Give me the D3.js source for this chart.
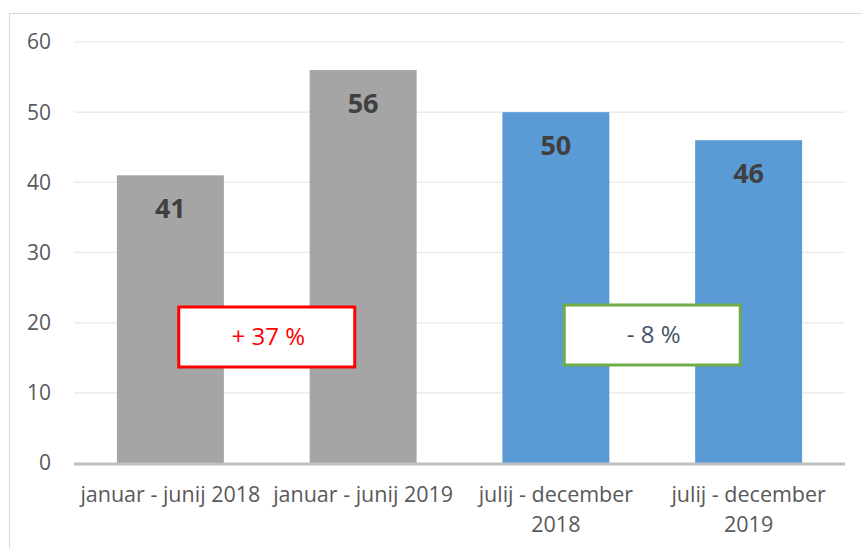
<!DOCTYPE html>
<html lang="en">
<head>
    <meta charset="utf-8">
    <title>Bars</title>
    <script src="https://cdn.jsdelivr.net/npm/d3@7"></script>
</head>
<style>
    body { margin: 0; background: #fff; }
    text { font-family: "Open Sans", "Noto Sans", sans-serif; }
</style>
<body>
    <script>

     // data
     var categories = [["januar - junij 2018"], ["januar - junij 2019"],
                       ["julij - december", "2018"], ["julij - december", "2019"]];
     var values = [41, 56, 50, 46];
     var barColors = ["#a5a5a5", "#a5a5a5", "#5b9bd5", "#5b9bd5"];
     var yTicks = [0, 10, 20, 30, 40, 50, 60];
     var notes = [{ text: "+ 37 %", from: 0, to: 1, color: "red", stroke: "#ff0000" },
                  { text: "- 8 %", from: 2, to: 3, color: "#44546a", stroke: "#70ad47" }];

     var width = 862, height = 548;

     var svg = d3.select("body").append("svg")
                 .attr("width", width)
                 .attr("height", height);

     // outer frame
     svg.append("rect")
        .attr("x", 9.5).attr("y", 13.5)
        .attr("width", 870).attr("height", 560)
        .attr("fill", "none")
        .attr("stroke", "#d9d9d9");

     var x = d3.scaleBand()
               .domain(d3.range(values.length))
               .range([74, 845])
               .paddingInner(0.445)
               .paddingOuter(0.2225);

     var y = d3.scaleLinear()
               .domain([0, 60])
               .range([463, 42]);

     // gridlines
     svg.selectAll(".grid")
        .data(yTicks.slice(1))
        .enter().append("line")
        .attr("x1", 74).attr("x2", 845)
        .attr("y1", function(d) { return y(d); })
        .attr("y2", function(d) { return y(d); })
        .attr("stroke", "#ececec")
        .attr("stroke-width", 1.5);

     // y labels
     svg.selectAll(".ylab")
        .data(yTicks)
        .enter().append("text")
        .attr("x", 51)
        .attr("y", function(d) { return y(d); })
        .attr("dy", "0.35em")
        .attr("text-anchor", "end")
        .attr("font-size", 21)
        .attr("fill", "#595959")
        .text(function(d) { return d; });

     // bars
     svg.selectAll(".bar")
        .data(values)
        .enter().append("rect")
        .attr("x", function(d, i) { return x(i); })
        .attr("y", function(d) { return y(d); })
        .attr("width", x.bandwidth())
        .attr("height", function(d) { return y(0) - y(d); })
        .attr("fill", function(d, i) { return barColors[i]; });

     // value labels
     svg.selectAll(".val")
        .data(values)
        .enter().append("text")
        .attr("x", function(d, i) { return x(i) + x.bandwidth() / 2; })
        .attr("y", function(d) { return y(d) + 43; })
        .attr("text-anchor", "middle")
        .attr("font-size", 27)
        .attr("font-weight", "bold")
        .attr("fill", "#404040")
        .text(function(d) { return d; });

     // x axis line
     svg.append("line")
        .attr("x1", 74).attr("x2", 845)
        .attr("y1", y(0) + 1).attr("y2", y(0) + 1)
        .attr("stroke", "#bfbfbf")
        .attr("stroke-width", 3);

     // category labels
     var cat = svg.selectAll(".cat")
        .data(categories)
        .enter().append("text")
        .attr("text-anchor", "middle")
        .attr("font-size", 21.5)
        .attr("fill", "#595959");
     cat.selectAll("tspan")
        .data(function(d, i) { return d.map(function(s) { return { s: s, i: i }; }); })
        .enter().append("tspan")
        .attr("x", function(d) { return x(d.i) + x.bandwidth() / 2; })
        .attr("y", function(d, j) { return 502 + j * 29.5; })
        .text(function(d) { return d.s; });

     // change boxes
     notes.forEach(function(n) {
         var cx = (x(n.from) + x(n.to)) / 2 + x.bandwidth() / 2;
         var top = n.from === 0 ? 307 : 305;
         var g = svg.append("g");
         g.append("rect")
          .attr("x", cx - 88).attr("y", top)
          .attr("width", 176).attr("height", 60)
          .attr("fill", "#fff")
          .attr("stroke", n.stroke)
          .attr("stroke-width", 3);
         g.append("text")
          .attr("x", cx + 1.5)
          .attr("y", top + 30)
          .attr("dy", "0.35em")
          .attr("text-anchor", "middle")
          .attr("font-size", 24)
          .attr("fill", n.color)
          .text(n.text);
     });

    </script>
</body>
</html>
